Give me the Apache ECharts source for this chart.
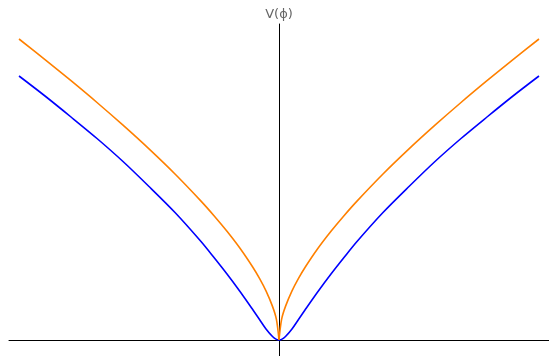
<!DOCTYPE html>
<html>
<head>
<meta charset="utf-8">
<script src="https://cdn.jsdelivr.net/npm/echarts@6/dist/echarts.min.js"></script>
<style>html,body{margin:0;padding:0;background:#fff}#c{width:549px;height:356px}</style>
</head>
<body>
<div id="c"></div>
<script>
// |phi| sample points (right half; the curves are mirror-symmetric)
var phi = [0, 0.01, 0.025, 0.05, 0.075, 0.1, 0.15, 0.2, 0.25, 0.3, 0.4, 0.5, 0.6, 0.7, 0.8, 0.9, 1.0];
// values
var orangeV = [0, 20.7, 33.6, 49.1, 61.6, 72.5, 91.7, 108.7, 124.3, 138.9, 166, 191.1, 214.8, 237.5, 259.3, 280.4, 301];
var blueV   = [0, 0.6, 3.5, 11, 20.5, 30, 48.5, 66, 82.5, 98.5, 127.5, 153.5, 178.5, 201.5, 223, 244, 264];
var yLabel = 'V(ϕ)';

function side(vals, sign) {
  var out = [];
  for (var i = 0; i < phi.length; i++) out.push([sign * phi[i], vals[i]]);
  return out;
}
function line(data, color) {
  return {type: 'line', data: data, showSymbol: false, smooth: 0.3, animation: false,
    lineStyle: {color: color, width: 1.6}, itemStyle: {color: color}};
}
var chart = echarts.init(document.getElementById('c'));
chart.setOption({
  animation: false,
  grid: {left: 9, right: 0, top: 24, bottom: 0, containLabel: false},
  xAxis: {type: 'value', min: -1.0385, max: 1.0385,
    axisLine: {show: true, onZero: true, lineStyle: {color: '#000', width: 1}},
    axisTick: {show: false}, axisLabel: {show: false}, splitLine: {show: false}},
  yAxis: {type: 'value', min: -16, max: 316,
    name: yLabel, nameLocation: 'end', nameGap: 3,
    nameTextStyle: {color: '#666', fontSize: 13, fontFamily: 'DejaVu Sans', align: 'center', verticalAlign: 'bottom'},
    axisLine: {show: true, onZero: true, lineStyle: {color: '#000', width: 1}},
    axisTick: {show: false}, axisLabel: {show: false}, splitLine: {show: false}},
  series: [
    line(side(blueV, -1), '#0000ff'),
    line(side(blueV, 1), '#0000ff'),
    line(side(orangeV, -1), '#ff8000'),
    line(side(orangeV, 1), '#ff8000')
  ]
});
</script>
</body>
</html>
